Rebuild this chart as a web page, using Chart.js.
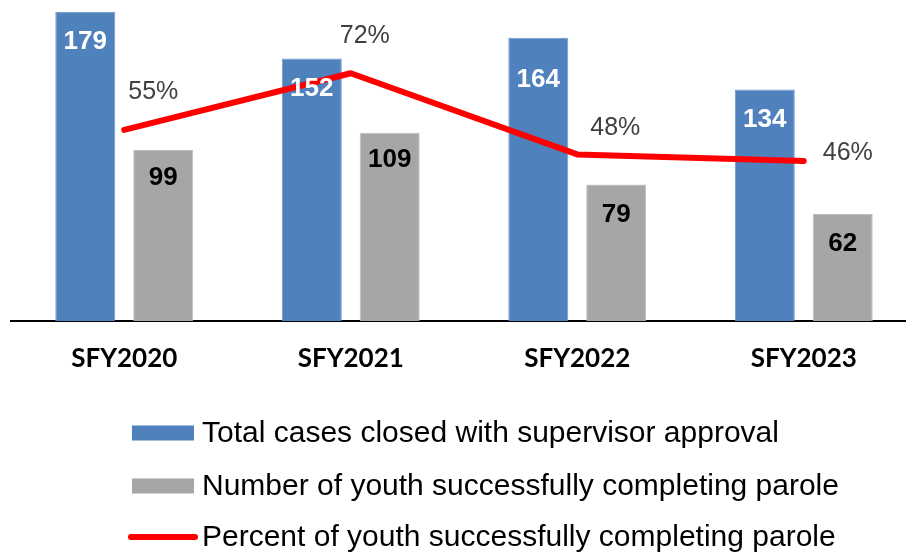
<!DOCTYPE html>
<html>
<head>
<meta charset="utf-8">
<title>Parole completion</title>
<script src="https://cdn.jsdelivr.net/npm/chart.js@4.4.1/dist/chart.umd.min.js"></script>
<style>
    html, body { margin: 0; padding: 0; background: #fff; overflow: hidden; }
    #wrap { position: relative; width: 918px; height: 554px; }
</style>
</head>
<body>
<div id="wrap"><canvas id="paroleChart"></canvas></div>
<script>
// data
const years = ['SFY2020', 'SFY2021', 'SFY2022', 'SFY2023'];
const totalClosed = [179, 152, 164, 134];
const completedParole = [99, 109, 79, 62];
const pctCompleted = [55.3, 71.7, 48.2, 46.3];
const seriesNames = [
    'Total cases closed with supervisor approval',
    'Number of youth successfully completing parole',
    'Percent of youth successfully completing parole'
];

// value labels on bars and line points
const valueLabels = {
    id: 'valueLabels',
    afterDatasetsDraw(chart) {
        const ctx = chart.ctx;
        ctx.save();
        ctx.textAlign = 'center';
        ctx.textBaseline = 'middle';
        chart.data.datasets.forEach((ds, i) => {
            const st = ds.labelStyle;
            if (!st) return;
            const meta = chart.getDatasetMeta(i);
            ctx.font = st.font;
            ctx.fillStyle = st.color;
            meta.data.forEach((el, j) => {
                const dx = st.dx ? st.dx[j] : 0;
                const dy = st.dy[j];
                ctx.fillText(st.format(ds.data[j]), el.x + dx, el.y + dy);
            });
        });
        ctx.restore();
    }
};

// legend drawn as three left-aligned rows under the axis
const rowLegend = {
    id: 'rowLegend',
    afterDraw(chart) {
        const ctx = chart.ctx;
        const rowsY = [433, 486, 537];
        ctx.save();
        ctx.font = '30px "Liberation Sans", Arial, sans-serif';
        ctx.textBaseline = 'middle';
        ctx.textAlign = 'left';
        chart.data.datasets.forEach((ds, i) => {
            const y = rowsY[i];
            if (ds.type === 'line') {
                ctx.strokeStyle = ds.borderColor;
                ctx.lineWidth = 6;
                ctx.lineCap = 'round';
                ctx.beginPath();
                ctx.moveTo(131, y);
                ctx.lineTo(195, y);
                ctx.stroke();
            } else {
                ctx.fillStyle = ds.backgroundColor;
                ctx.fillRect(132, y - 7.5, 62, 15);
            }
            ctx.fillStyle = '#000';
            ctx.fillText(ds.label, 202, y + 1);
        });
        ctx.restore();
    }
};

const ctxChart = document.getElementById('paroleChart').getContext('2d');
new Chart(ctxChart, {
    type: 'bar',
    data: {
        labels: years,
        datasets: [
            {
                label: seriesNames[0],
                data: totalClosed,
                backgroundColor: '#4F81BD',
                borderColor: '#6F97CC',
                borderWidth: 1,
                categoryPercentage: 0.688,
                barPercentage: 0.77,
                order: 1,
                yAxisID: 'y',
                labelStyle: {
                    font: 'bold 26px "Liberation Sans", Arial, sans-serif',
                    color: '#fff',
                    dy: [30, 30, 42, 30],
                    format: v => String(v)
                }
            },
            {
                label: seriesNames[1],
                data: completedParole,
                backgroundColor: '#A6A6A6',
                borderColor: '#BDBDBD',
                borderWidth: 1,
                categoryPercentage: 0.688,
                barPercentage: 0.77,
                order: 1,
                yAxisID: 'y',
                labelStyle: {
                    font: 'bold 26px "Liberation Sans", Arial, sans-serif',
                    color: '#000',
                    dy: [28, 27, 30, 30],
                    format: v => String(v)
                }
            },
            {
                type: 'line',
                label: seriesNames[2],
                data: pctCompleted,
                borderColor: '#FF0000',
                backgroundColor: '#FF0000',
                borderWidth: 6,
                borderCapStyle: 'round',
                borderJoinStyle: 'round',
                pointRadius: 0,
                tension: 0,
                order: 0,
                yAxisID: 'y1',
                labelStyle: {
                    font: '25px "Liberation Sans", Arial, sans-serif',
                    color: '#404040',
                    dx: [29, 14, 38, 44],
                    dy: [-38, -37, -26, -8],
                    format: v => Math.round(v) + '%'
                }
            }
        ]
    },
    options: {
        responsive: true,
        maintainAspectRatio: false,
        animation: false,
        layout: { padding: { left: 11, right: 1, top: 10, bottom: 173 } },
        scales: {
            x: {
                grid: { display: false, drawTicks: false },
                border: { display: true, color: '#000', width: 2 },
                ticks: {
                    color: '#000',
                    padding: 22,
                    font: { family: 'Lato', weight: 'bold', size: 26 }
                },
                afterFit(scale) { scale.height = 60; }
            },
            y: { display: false, min: 0, max: 180 },
            y1: { display: false, min: 0, max: 90 }
        },
        plugins: {
            legend: { display: false },
            tooltip: { enabled: false }
        }
    },
    plugins: [valueLabels, rowLegend]
});
</script>
</body>
</html>
